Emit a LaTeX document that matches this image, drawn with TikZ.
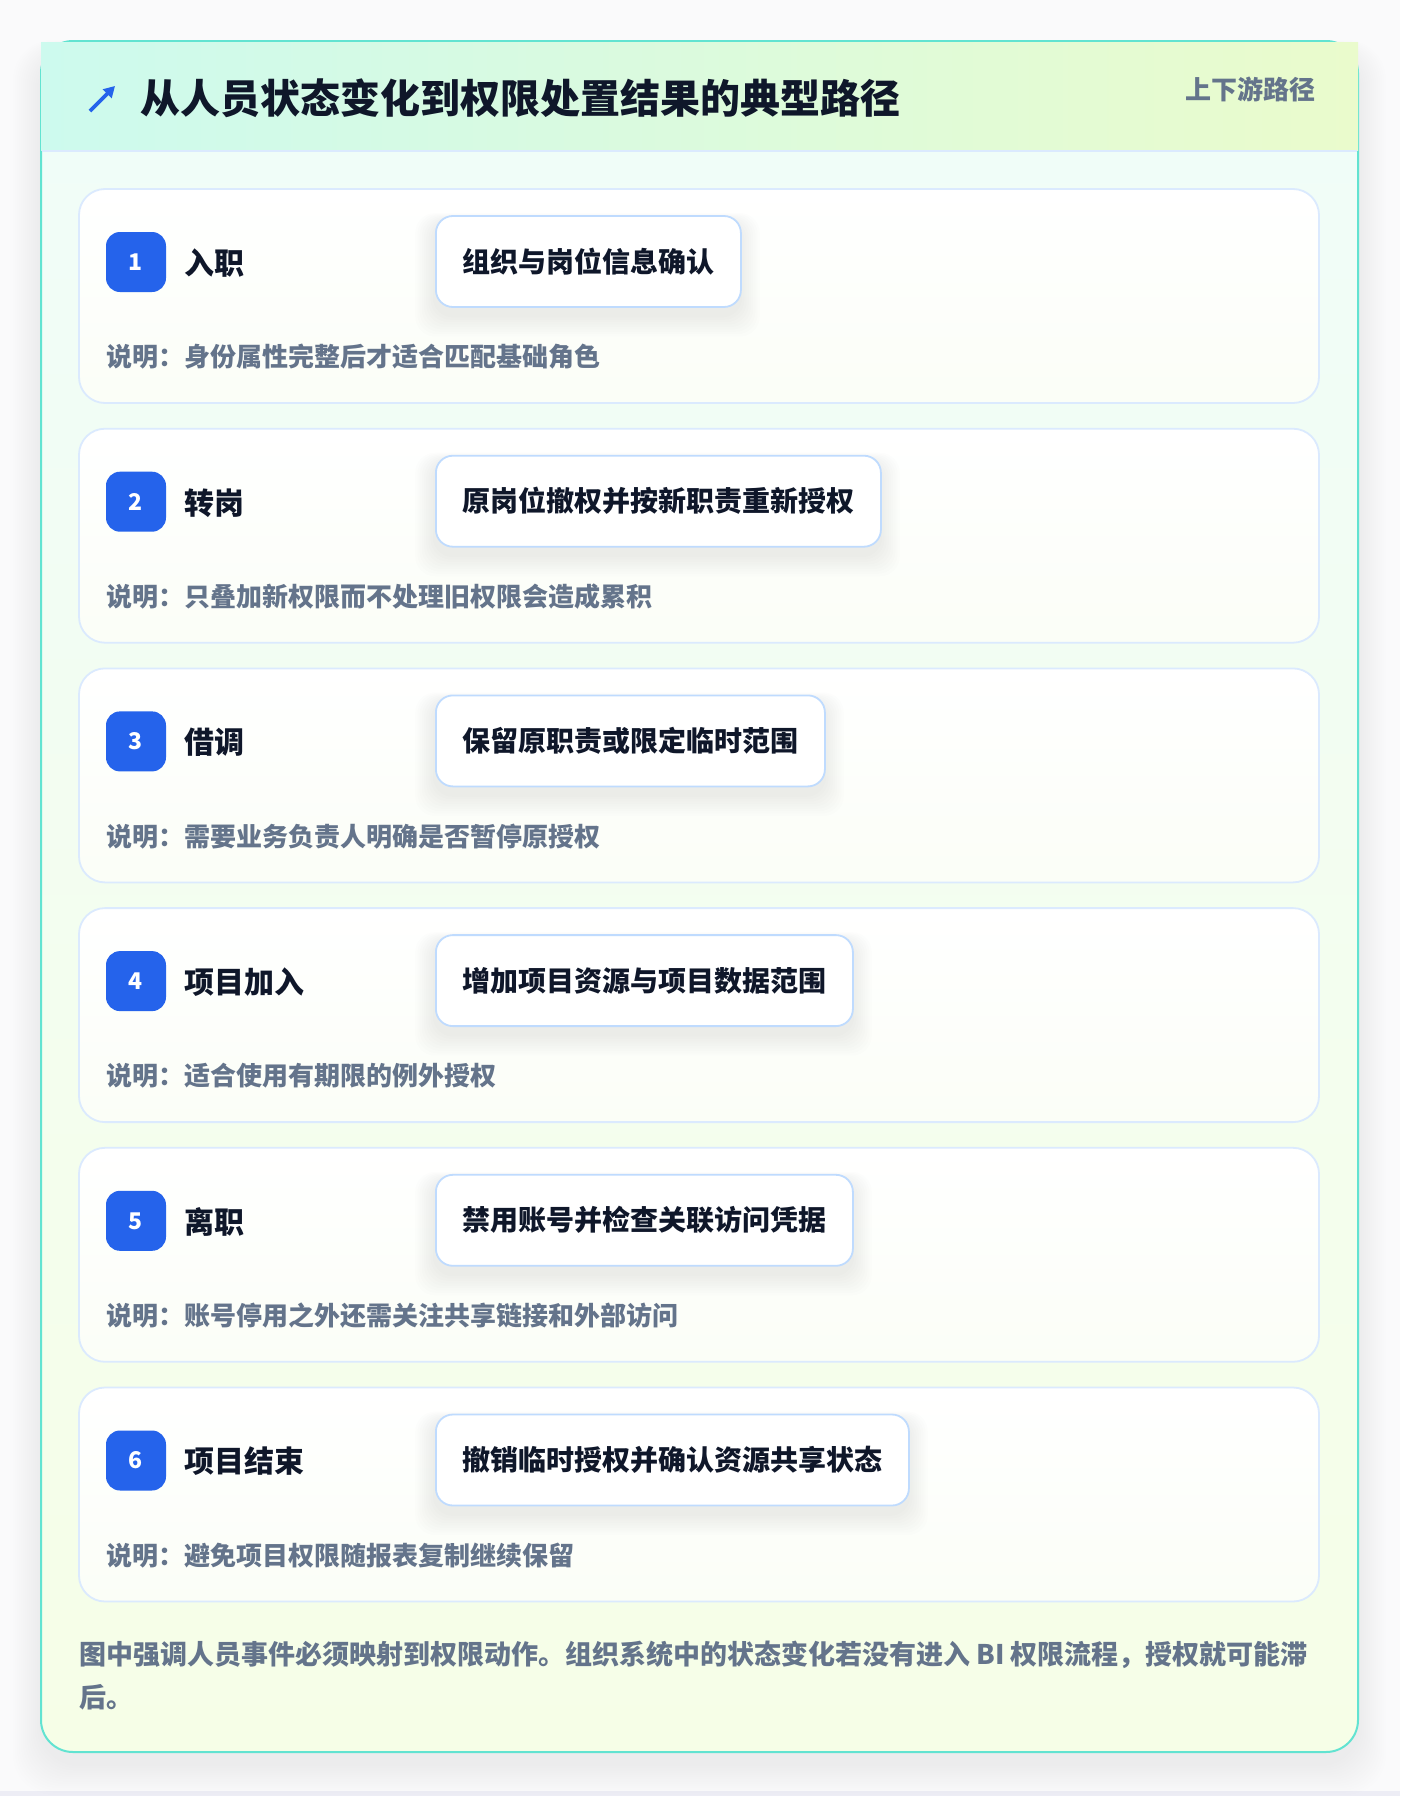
\documentclass[tikz,border=0pt]{standalone}
\usepackage{fontspec}
\setmainfont{Noto Sans CJK SC}
\usetikzlibrary{arrows.meta}
\definecolor{canvas}{HTML}{FAFAFB}
\definecolor{teal}{HTML}{62E3D1}
\definecolor{headl}{HTML}{CDFAEE}
\definecolor{headr}{HTML}{EAFBCC}
\definecolor{bodytop}{HTML}{F0FDF9}
\definecolor{bodybot}{HTML}{F6FEE7}
\definecolor{cardline}{HTML}{DBEAFE}
\definecolor{boxline}{HTML}{BFDBFE}
\definecolor{badge}{HTML}{2563EB}
\definecolor{ink}{HTML}{0F172A}
\definecolor{muted}{HTML}{64748B}
\definecolor{stepbot}{HTML}{FBFEF7}
\tikzset{
  stepcard/.style={draw=cardline, line width=1.8pt, rounded corners=26pt, top color=white, bottom color=stepbot},
  actbox/.style={draw=boxline, line width=1.8pt, fill=white, rounded corners=17pt, minimum height=91pt, inner xsep=0pt, anchor=west, text=ink, font=\bfseries\fontsize{28}{28}\selectfont},
  badgebox/.style={fill=badge, rounded corners=14pt, minimum size=60pt, inner sep=0pt, text=white, font=\bfseries\fontsize{23}{23}\selectfont},
  steplabel/.style={anchor=west, inner sep=0pt, text=ink, font=\bfseries\fontsize{30}{30}\selectfont},
  stepdesc/.style={anchor=west, inner sep=0pt, text=muted, font=\bfseries\fontsize{26}{26}\selectfont},
  foottext/.style={anchor=west, inner sep=0pt, text=muted, font=\bfseries\fontsize{27}{27}\selectfont},
}
\begin{document}
\begin{tikzpicture}[x=1pt,y=1pt]
\useasboundingbox (0,0) rectangle (1400,-1796);
\fill[canvas] (0,0) rectangle (1400,-1796);
\fill[color={rgb,255:red,237;green,237;blue,245}] (0,-1791) rectangle (1400,-1796);
% main card shadow
\foreach \k in {1,...,14}{
  \fill[black, opacity=0.005, rounded corners=40pt] (41-\k*2.0,-41+\k*0.8-10) rectangle (1358+\k*2.0,-1752-\k*2.2-12);
}
% main card
\shade[top color=bodytop, bottom color=bodybot, rounded corners=32pt] (41,-41) rectangle (1358,-1752);
\draw[teal, line width=2pt, rounded corners=32pt] (41,-41) rectangle (1358,-1752);
% header
\shade[left color=headl, right color=headr] (41,-42.2) rectangle (1358,-150);
\draw[cardline, line width=2pt] (42,-151) -- (1357,-151);
\coordinate (arrA) at (90,-111);
\coordinate (arrB) at (115,-86);
\draw[badge, line width=3.6pt, -{Triangle[length=11pt,width=12pt]}] (arrA) -- (arrB);
\node[anchor=west, inner sep=0pt, text=ink, font=\bfseries\fontsize{40}{40}\selectfont] (title) at (140,-98) {从人员状态变化到权限处置结果的典型路径};
\node[anchor=east, inner sep=0pt, text=muted, font=\bfseries\fontsize{26}{26}\selectfont] (tag) at (1316,-89) {上下游路径};
% steps
\foreach \n/\lab/\act/\w/\desc in {
  1/入职/组织与岗位信息确认/305/身份属性完整后才适合匹配基础角色,
  2/转岗/原岗位撤权并按新职责重新授权/445/只叠加新权限而不处理旧权限会造成累积,
  3/借调/保留原职责或限定临时范围/389/需要业务负责人明确是否暂停原授权,
  4/项目加入/增加项目资源与项目数据范围/417/适合使用有期限的例外授权,
  5/离职/禁用账号并检查关联访问凭据/417/账号停用之外还需关注共享链接和外部访问,
  6/项目结束/撤销临时授权并确认资源共享状态/473/避免项目权限随报表复制继续保留}{
  \pgfmathsetmacro\t{189+(\n-1)*239.7}
  \path[stepcard] (79,-\t) rectangle (1319,-\t-214);
  % action box shadow
  \foreach \k in {1,...,9}{
    \fill[black, opacity=0.009, rounded corners=20pt] (435-\k*2.2,-\t-27+\k*1.0-6) rectangle (435+\w+\k*2.2,-\t-118-\k*2.4-8);
  }
  \node[badgebox] (b\n) at (136,-\t-73) {\n};
  \node[steplabel] (l\n) at (184,-\t-74) {\lab};
  \node[actbox, minimum width=\w pt] (a\n) at (435,-\t-72.5) {\act};
  \node[stepdesc] (d\n) at (106,-\t-168) {说明：\desc};
}
\node[foottext] (f1) at (79,-1655) {图中强调人员事件必须映射到权限动作。组织系统中的状态变化若没有进入 BI 权限流程，授权就可能滞};
\node[foottext] (f2) at (79,-1697) {后。};
\end{tikzpicture}
\end{document}
